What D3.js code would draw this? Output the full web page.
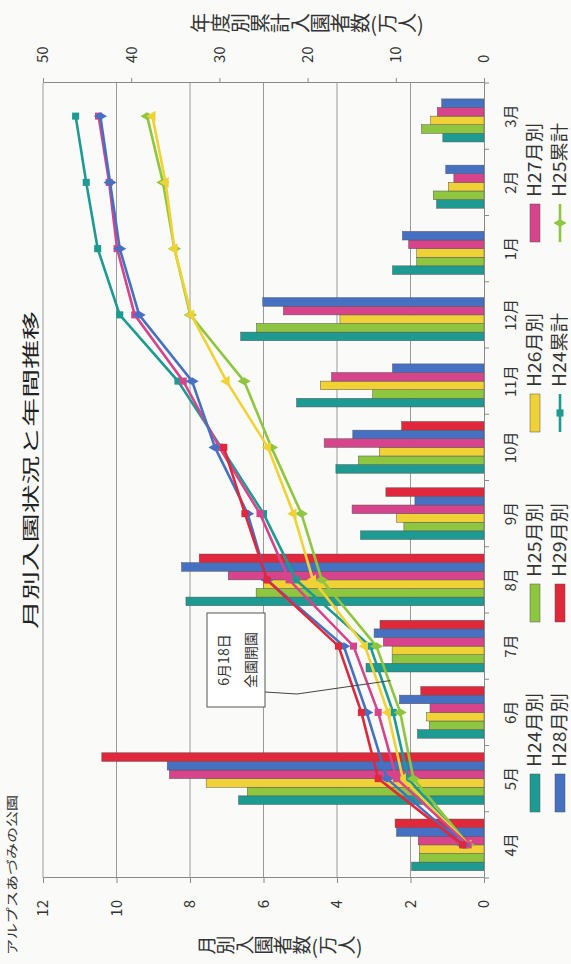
<!DOCTYPE html>
<html>
<head>
<meta charset="utf-8">
<script src="https://cdn.jsdelivr.net/npm/d3@7"></script>
<style>
  body { margin: 0; background: #fafaf8; }
  svg { display: block; font-family: 'Noto Sans CJK JP', 'Liberation Sans', sans-serif; }
</style>
</head>
<body>
<script>
const months = ['4月', '5月', '6月', '7月', '8月', '9月', '10月', '11月', '12月', '1月', '2月', '3月'];
const years = ['H24', 'H25', 'H26', 'H27', 'H28', 'H29'];

// 月別入園者数 (万人)
const monthlyH24 = [1.97, 6.68, 1.81, 3.21, 8.11, 3.36, 4.03, 5.10, 6.62, 2.49, 1.29, 1.12];
const monthlyH25 = [1.76, 6.44, 1.49, 2.50, 6.20, 2.18, 3.42, 3.03, 6.19, 1.83, 1.38, 1.70];
const monthlyH26 = [1.76, 7.56, 1.56, 2.50, 6.00, 2.38, 2.85, 4.45, 3.92, 1.83, 0.97, 1.45];
const monthlyH27 = [1.79, 8.56, 1.47, 2.74, 6.96, 3.59, 4.35, 4.15, 5.46, 2.05, 0.82, 1.27];
const monthlyH28 = [2.38, 8.62, 2.30, 2.99, 8.23, 1.88, 3.57, 2.49, 6.02, 2.22, 1.04, 1.15];
const monthlyH29 = [2.42, 10.4, 1.72, 2.83, 7.75, 2.67, 2.24];

// 年度別累計入園者数 (万人)
const totalH24 = [1.97, 8.6, 10.3, 12.9, 21.3, 25.0, 29.8, 34.7, 41.3, 43.8, 45.1, 46.3];
const totalH25 = [1.76, 8.0, 9.5, 12.2, 18.4, 20.7, 24.1, 27.2, 33.3, 35.1, 36.4, 38.2];
const totalH26 = [1.76, 9.2, 10.9, 13.5, 19.4, 21.6, 24.5, 29.2, 33.2, 35.1, 36.1, 37.6];
const totalH27 = [1.79, 9.9, 12.0, 14.8, 22.1, 25.4, 30.0, 34.1, 39.6, 41.6, 42.5, 43.7];
const totalH28 = [2.38, 11.0, 13.3, 15.9, 24.6, 26.8, 30.5, 33.1, 39.1, 41.3, 42.4, 43.5];
const totalH29 = [2.42, 12.0, 13.9, 16.5, 24.6, 27.1, 29.5];

const monthlyTicks = [0, 2, 4, 6, 8, 10, 12];
const totalTicks = [0, 10, 20, 30, 40, 50];
const legendLabels = ['H24月別', 'H25月別', 'H26月別', 'H27月別', 'H28月別', 'H29月別', 'H24累計', 'H25累計'];
const noteLines = ['6月18日', '全園開園'];

const colors = ['#1d9a91', '#8ec63f', '#f1d236', '#d8448c', '#4671c2', '#e0273b'];
const symbols = [d3.symbolSquare, d3.symbolDiamond, d3.symbolTriangle, d3.symbolSquare, d3.symbolDiamond, d3.symbolSquare];

function drawChart() {
  const monthly = [monthlyH24, monthlyH25, monthlyH26, monthlyH27, monthlyH28, monthlyH29];
  const totals = [totalH24, totalH25, totalH26, totalH27, totalH28, totalH29];

  // the sheet was scanned sideways, so draw it landscape and turn it
  const pageWidth = 964;
  const plot = { left: 86, right: 881, top: 43, bottom: 484 };
  const textColor = '#333';
  const gridColor = '#9a9a9a';

  const wrapper = d3
    .select('body')
    .append('svg')
    .attr('width', 571)
    .attr('height', 964);

  const page = wrapper
    .append('g')
    .attr('transform', `translate(0 ${pageWidth}) rotate(-90)`);

  const xMonth = d3
    .scaleBand()
    .domain(months)
    .range([plot.left, plot.right]);
  const groupPad = xMonth.step() * 0.11;
  const xYear = d3
    .scaleBand()
    .domain(years)
    .range([groupPad, xMonth.bandwidth() - groupPad]);
  const yMonthly = d3.scaleLinear().domain([0, 12]).range([plot.bottom, plot.top]);
  const yTotal = d3.scaleLinear().domain([0, 50]).range([plot.bottom, plot.top]);
  const midMonth = m => xMonth(m) + xMonth.bandwidth() / 2;

  // grid
  page
    .append('g')
    .selectAll('line')
    .data(monthlyTicks.filter(d => d > 0))
    .join('line')
    .attr('x1', plot.left)
    .attr('x2', plot.right)
    .attr('y1', d => yMonthly(d))
    .attr('y2', d => yMonthly(d))
    .attr('stroke', gridColor)
    .attr('stroke-width', 1);

  // bars
  const barData = years.flatMap((year, s) =>
    monthly[s].map((value, i) => ({ year, s, month: months[i], value }))
  );

  page
    .append('g')
    .selectAll('rect')
    .data(barData)
    .join('rect')
    .attr('x', d => xMonth(d.month) + xYear(d.year))
    .attr('width', xYear.bandwidth())
    .attr('y', d => yMonthly(d.value))
    .attr('height', d => yMonthly(0) - yMonthly(d.value))
    .attr('fill', d => colors[d.s])
    .attr('stroke', '#555')
    .attr('stroke-width', 0.5);

  // cumulative lines
  const lineGenerator = d3
    .line()
    .x((d, i) => midMonth(months[i]))
    .y(d => yTotal(d));

  const lineGroups = page
    .append('g')
    .selectAll('g')
    .data(totals)
    .join('g');

  lineGroups
    .append('path')
    .attr('d', d => lineGenerator(d))
    .attr('fill', 'none')
    .attr('stroke', (d, s) => colors[s])
    .attr('stroke-width', 2.6);

  lineGroups.each(function(series, s) {
    d3.select(this)
      .selectAll('path.marker')
      .data(series)
      .join('path')
      .attr('class', 'marker')
      .attr('transform', (d, i) => `translate(${midMonth(months[i])} ${yTotal(d)})`)
      .attr('d', d3.symbol(symbols[s], 50))
      .attr('fill', colors[s]);
  });

  // axes
  const styleAxis = g => {
    g.attr('font-family', null).attr('font-size', 15);
    g.selectAll('line, path').attr('stroke', '#8a8a8a');
    g.selectAll('text').attr('fill', textColor);
  };

  page
    .append('g')
    .attr('transform', `translate(${plot.left} 0)`)
    .call(
      d3
        .axisLeft(yMonthly)
        .tickValues(monthlyTicks)
        .tickSize(5)
        .tickSizeOuter(0)
        .tickPadding(17)
    )
    .call(styleAxis);

  page
    .append('g')
    .attr('transform', `translate(${plot.right} 0)`)
    .call(
      d3
        .axisRight(yTotal)
        .tickValues(totalTicks)
        .tickSize(5)
        .tickSizeOuter(0)
        .tickPadding(15)
    )
    .call(styleAxis);

  page
    .append('g')
    .attr('transform', `translate(0 ${plot.bottom})`)
    .call(d3.axisBottom(xMonth).tickSize(0).tickPadding(21))
    .call(styleAxis);

  page
    .append('g')
    .selectAll('line')
    .data(d3.range(months.length + 1))
    .join('line')
    .attr('x1', i => plot.left + i * xMonth.step())
    .attr('x2', i => plot.left + i * xMonth.step())
    .attr('y1', plot.bottom)
    .attr('y2', plot.bottom + 5)
    .attr('stroke', '#8a8a8a');

  // axis titles, set vertically as on the sheet
  page
    .append('text')
    .attr('x', 19)
    .attr('y', 280)
    .attr('text-anchor', 'middle')
    .style('writing-mode', 'vertical-rl')
    .attr('font-size', 19)
    .attr('fill', textColor)
    .text('月別入園者数(万人)');

  page
    .append('text')
    .attr('x', 941)
    .attr('y', 307)
    .attr('text-anchor', 'middle')
    .style('writing-mode', 'vertical-rl')
    .attr('font-size', 20)
    .attr('fill', textColor)
    .text('年度別累計入園者数(万人)');

  // titles
  page
    .append('text')
    .attr('x', 494)
    .attr('y', 37)
    .attr('text-anchor', 'middle')
    .attr('font-size', 17)
    .attr('textLength', 318)
    .attr('lengthAdjust', 'spacingAndGlyphs')
    .attr('fill', '#222')
    .text('月別入園状況と年間推移');

  page
    .append('text')
    .attr('x', 9)
    .attr('y', 17)
    .attr('font-size', 12)
    .attr('textLength', 160)
    .attr('lengthAdjust', 'spacingAndGlyphs')
    .attr('fill', textColor)
    .text('アルプスあづみの公園');

  // note
  const noteGroup = page.append('g');
  noteGroup
    .append('path')
    .attr('d', d3.line()([
      [272, 265],
      [270, 297],
      [xMonth('6月') + xMonth.step() * 0.98, yTotal(10.6)],
    ]))
    .attr('fill', 'none')
    .attr('stroke', '#444')
    .attr('stroke-width', 1);
  noteGroup
    .append('rect')
    .attr('x', 257)
    .attr('y', 207)
    .attr('width', 94)
    .attr('height', 58)
    .attr('fill', '#fff')
    .attr('stroke', '#555')
    .attr('stroke-width', 1);
  noteGroup
    .selectAll('text')
    .data(noteLines)
    .join('text')
    .attr('x', 304)
    .attr('y', (d, i) => 229 + i * 27)
    .attr('text-anchor', 'middle')
    .attr('font-size', 14)
    .attr('fill', textColor)
    .text(d => d);

  // legend
  const legendItems = page
    .append('g')
    .selectAll('g')
    .data(legendLabels)
    .join('g')
    .attr('transform', (d, i) => `translate(${152 + (i % 4) * 190} ${530 + Math.floor(i / 4) * 25})`);

  legendItems
    .filter((d, i) => i < years.length)
    .append('rect')
    .attr('width', 38)
    .attr('height', 10)
    .attr('fill', (d, i) => colors[i])
    .attr('stroke', '#555')
    .attr('stroke-width', 0.5);

  const lineItems = legendItems.filter((d, i) => i >= years.length);
  lineItems
    .append('line')
    .attr('x1', 0)
    .attr('x2', 38)
    .attr('y1', 5)
    .attr('y2', 5)
    .attr('stroke', (d, i) => colors[i])
    .attr('stroke-width', 2.6);
  lineItems
    .append('path')
    .attr('transform', 'translate(19 5)')
    .attr('d', (d, i) => d3.symbol(symbols[i], 50)())
    .attr('fill', (d, i) => colors[i]);

  legendItems
    .append('text')
    .attr('x', 45)
    .attr('y', 11)
    .attr('font-size', 18)
    .attr('textLength', 74)
    .attr('lengthAdjust', 'spacingAndGlyphs')
    .attr('fill', textColor)
    .text(d => d);
}

drawChart();
</script>
</body>
</html>
